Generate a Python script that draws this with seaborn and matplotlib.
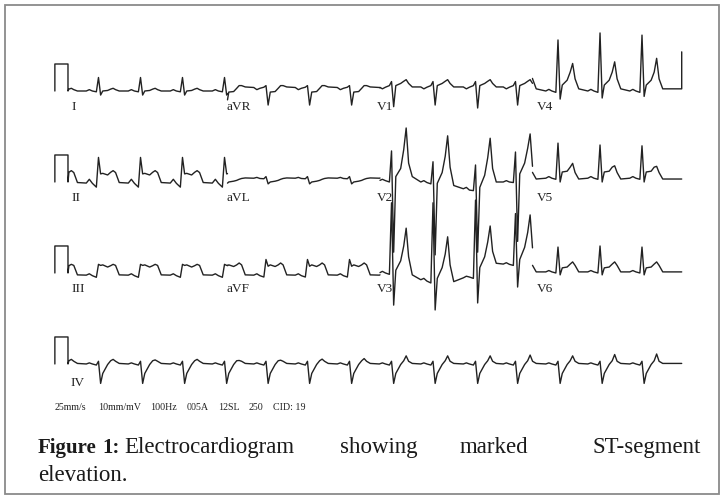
import numpy as np
import pandas as pd
import matplotlib
matplotlib.use("Agg")
import matplotlib.pyplot as plt
from matplotlib.patches import Rectangle
import seaborn as sns

# ---------------- data (seconds, millivolts) ----------------
BEAT_T = [-0.30, 0.385, 1.074, 1.762, 2.451, 3.131, 3.811, 4.50,
          5.189, 5.869, 6.566, 7.221, 7.918, 8.607, 9.295]
# vertex times of one complex relative to R: P0, P, P1, Q, R, S, J, ST, Tup, T, Tdn, E
WAVE_OFFSETS = [-0.20, -0.15, -0.10, -0.035, 0.0, 0.035, 0.07, 0.15, 0.20, 0.24, 0.28, 0.34]
COL_EDGES = [-0.115, 2.5, 5.0, 7.5, 9.946]
CAL_T = [-0.33, -0.115]
CAL_MV = 1.0
END_MARK_MV = 1.45

LAYOUT = [["I", "aVR", "V1", "V4"],
          ["II", "aVL", "V2", "V5"],
          ["III", "aVF", "V3", "V6"],
          ["IV"]]

TPL = {
    "I":   [0.00, 0.05, 0.00, -0.03, 0.50, -0.15, 0.00, 0.02, 0.07, 0.10, 0.05, 0.00],
    "aVR": [0.13, 0.05, 0.10, 0.14, 0.20, -0.52, -0.04, -0.02, 0.10, 0.20, 0.20, 0.15],
    "V1":  [0.15, 0.08, 0.14, 0.20, 0.35, -0.58, 0.20, 0.28, 0.36, 0.42, 0.28, 0.15],
    "V4":  [0.00, 0.06, 0.00, -0.05, 2.00, -0.26, 0.22, 0.40, 0.70, 1.10, 0.45, 0.08],
    "II":  [-0.04, 0.10, -0.05, -0.19, 0.91, 0.30, 0.32, 0.26, 0.36, 0.42, 0.35, -0.02],
    "aVL": [0.14, 0.17, 0.13, 0.12, 0.20, -0.07, 0.00, 0.03, 0.06, 0.10, 0.13, 0.15],
    "V5":  [0.14, 0.20, 0.14, 0.10, 1.40, 0.00, 0.37, 0.40, 0.55, 0.62, 0.35, 0.11],
    "III": [-0.08, -0.03, -0.10, -0.16, 0.32, 0.28, 0.30, 0.22, 0.27, 0.32, 0.28, -0.07],
    "aVF": [-0.08, -0.03, -0.10, -0.15, 0.50, 0.25, 0.30, 0.24, 0.30, 0.37, 0.30, -0.07],
    "V6":  [0.04, 0.09, 0.04, 0.00, 0.96, -0.07, 0.19, 0.22, 0.33, 0.41, 0.28, 0.04],
    "IV":  [0.00, 0.04, 0.00, -0.04, 0.10, -0.72, -0.35, -0.02, 0.12, 0.20, 0.10, 0.02],
}

V2_BEATS = [
    [0.05, 0.10, 0.05, 0.00, 1.15, -2.60, 0.20, 0.50, 1.20, 2.00, 0.70, 0.20],
    [0.00, 0.05, -0.02, -0.07, 0.75, -2.70, -0.05, 0.35, 0.95, 1.71, 0.55, -0.13],
    [-0.25, -0.20, -0.30, -0.32, 0.63, -2.60, -0.20, 0.25, 0.90, 1.62, 0.50, 0.00],
    [0.00, 0.05, 0.00, -0.02, 1.11, -2.20, 0.30, 0.70, 1.25, 1.78, 0.55, 0.30],
]
V3_BEATS = [
    [0.00, 0.06, 0.00, -0.05, 2.60, -1.19, 0.10, 0.45, 1.00, 1.66, 0.60, -0.07],
    [-0.25, -0.20, -0.30, -0.37, 2.60, -1.37, -0.20, 0.20, 0.70, 1.34, 0.30, -0.32],
    [-0.18, -0.12, -0.15, -0.20, 2.70, -1.11, 0.20, 0.60, 1.15, 1.74, 0.80, 0.36],
    [0.33, 0.38, 0.32, 0.28, 2.20, -0.52, 0.50, 0.95, 1.50, 2.15, 0.90, 0.67],
]

OVR = {
    "V1": {"S": [-0.58, -0.52, -0.63, -0.52]},
    "V4": {"R": [1.89, 2.15, 2.07], "S": [-0.30, -0.26, -0.20], "T": [1.02, 1.08, 1.21]},
    "V5": {"R": [1.44, 1.37, 1.34], "T": [0.69, 0.60, 0.58]},
    "V6": {"R": [0.96, 1.00, 0.96]},
    "IV": {"T": [0.17, 0.17, 0.15, 0.17, 0.13, 0.14, 0.18, 0.20, 0.30,
                 0.30, 0.30, 0.33, 0.30, 0.35, 0.37]},
}
FULL = {"V2": V2_BEATS, "V3": V3_BEATS}

INFO = ["25mm/s", "10mm/mV", "100Hz", "005A", "12SL", "250", "CID: 19"]
CAPTION_BOLD = ["Figure", "1:"]
CAPTION_WORDS = ["Electrocardiogram", "showing", "marked", "ST-segment"]
CAPTION_LINE2 = "elevation."

# ---------------- layout constants ----------------
W_PX, H_PX = 723, 498
X0_PX, PX_PER_S = 75.0, 61.0
Y0_PX, PX_PER_MV = 91.0, 27.0
ROW_GAP = 3.37
INK = "#222222"
KEYS = ["P0", "P", "P1", "Q", "R", "S", "J", "ST", "Tup", "T", "Tdn", "E"]


def beat_rows(lead, lo, hi, full_row):
    tpl = FULL[lead][0] if lead in FULL else TPL[lead]
    idx = [k for k, t in enumerate(BEAT_T) if (full_row or lo <= t < hi)]
    rows = []
    for k in range(len(BEAT_T)):
        row = list(tpl)
        if k in idx:
            j = idx.index(k)
            if lead in FULL:
                row = list(FULL[lead][j])
            for key, vals in OVR.get(lead, {}).items():
                if j < len(vals):
                    row[KEYS.index(key)] = vals[j]
        rows.append(row)
    return rows


records = []
seg_id = 0
for r, leads in enumerate(LAYOUT):
    full_row = len(leads) == 1
    for c, lead in enumerate(leads):
        lo = COL_EDGES[c]
        hi = COL_EDGES[-1] if full_row else COL_EDGES[c + 1]
        rows = beat_rows(lead, lo, hi, full_row)
        ts = np.concatenate([np.array(WAVE_OFFSETS) + bt for bt in BEAT_T])
        ys = np.concatenate(rows)
        pts_t, pts_y = [], []
        if c == 0:
            pts_t += [CAL_T[0], CAL_T[0], CAL_T[1], CAL_T[1]]
            pts_y += [0.0, CAL_MV, CAL_MV, 0.0]
            start = lo + 0.015
        else:
            start = lo
        m = (ts > start) & (ts < hi)
        pts_t += [start] + list(ts[m]) + [hi]
        pts_y += [float(np.interp(start, ts, ys))] + list(ys[m]) + [float(np.interp(hi, ts, ys))]
        if lead == "V4":
            pts_t += [hi]
            pts_y += [END_MARK_MV]
        for t, y in zip(pts_t, pts_y):
            records.append({"t": t, "mv": y - r * ROW_GAP, "seg": seg_id})
        seg_id += 1

df = pd.DataFrame(records)

sns.set_theme(style="white")
plt.rcParams["font.family"] = ["Liberation Serif", "DejaVu Serif"]

fig = plt.figure(figsize=(W_PX / 100, H_PX / 100), dpi=100)
ax = fig.add_axes([0, 0, 1, 1])
sns.lineplot(data=df, x="t", y="mv", units="seg", estimator=None, sort=False,
             color=INK, lw=1.0, legend=False, ax=ax)
ax.set_xlim(-X0_PX / PX_PER_S, (W_PX - X0_PX) / PX_PER_S)
ax.set_ylim((Y0_PX - H_PX) / PX_PER_MV, Y0_PX / PX_PER_MV)
ax.axis("off")

# lead labels
LABEL_X = [-0.05, 2.48, 4.95, 7.57]
for r, leads in enumerate(LAYOUT):
    for c, lead in enumerate(leads):
        dy = 0.50 if r == 3 else 0.37
        ax.text(LABEL_X[c] - (0.02 if r == 3 else 0), -r * ROW_GAP - dy, lead,
                fontsize=9.5, color=INK, va="top", ha="left")


def fx(px):
    return px / W_PX


def fy(py):
    return 1 - py / H_PX


INFO_X = [55, 98, 150, 187, 218, 249, 273]
for x, s in zip(INFO_X, INFO):
    fig.text(fx(x), fy(410), s, fontsize=7.2, color=INK, va="baseline", ha="left")

for x, s in zip([38, 102], CAPTION_BOLD):
    fig.text(fx(x), fy(453), s, fontsize=15, fontweight="bold", color="#1a1a1a",
             va="baseline", ha="left")
CAP_X = [124, 340, 460, 701]
for i, (x, w) in enumerate(zip(CAP_X, CAPTION_WORDS)):
    fig.text(fx(x), fy(453), w, fontsize=16.5, color="#1a1a1a", va="baseline",
             ha="right" if i == len(CAP_X) - 1 else "left")
fig.text(fx(38), fy(481), CAPTION_LINE2, fontsize=16.5, color="#1a1a1a",
         va="baseline", ha="left")

fig.patches.append(Rectangle((fx(4.5), fy(494)), fx(719) - fx(4.5), fy(5) - fy(494),
                             transform=fig.transFigure, fill=False,
                             edgecolor="#8a8a8a", lw=1.3))

fig.savefig("out.png", dpi=100)
